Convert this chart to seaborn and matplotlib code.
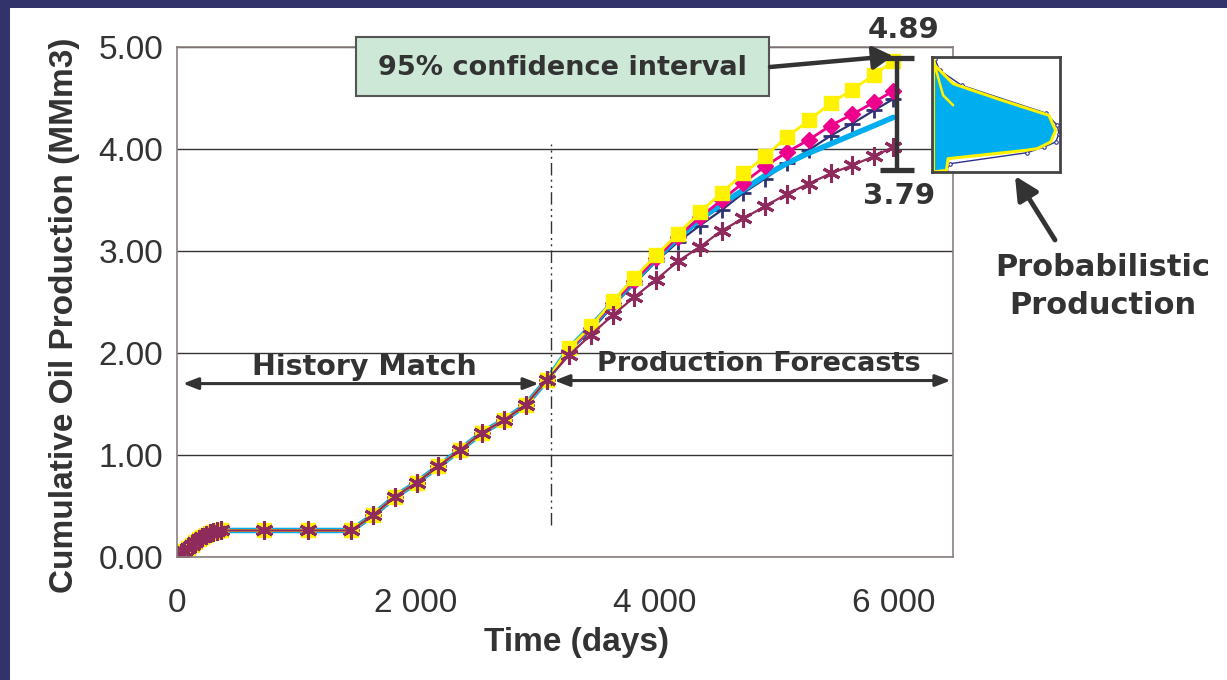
import matplotlib
matplotlib.use("Agg")
import matplotlib.pyplot as plt
import seaborn as sns
import numpy as np
from matplotlib.patches import Rectangle

# ---------------- data ----------------
t_hist = [0, 30, 61, 91, 122, 152, 183, 213, 243, 274, 304, 335, 365,
          730, 1095, 1460, 1642, 1825, 2007, 2190, 2372, 2555, 2737, 2920, 3102]
v_hist = [0.00, 0.03, 0.06, 0.09, 0.12, 0.15, 0.18, 0.20, 0.22, 0.235, 0.245, 0.255, 0.26,
          0.26, 0.26, 0.26, 0.41, 0.59, 0.73, 0.89, 1.05, 1.22, 1.34, 1.49, 1.74]
t_fc = [3285, 3467, 3650, 3832, 4015, 4197, 4380, 4562, 4745, 4927, 5110, 5292, 5475, 5657, 5840, 6000]
high_fc = [2.05, 2.26, 2.51, 2.74, 2.96, 3.17, 3.38, 3.57, 3.76, 3.93, 4.12, 4.28, 4.45, 4.58, 4.73, 4.86]
p_fc = [2.03, 2.25, 2.49, 2.71, 2.93, 3.14, 3.33, 3.50, 3.67, 3.83, 3.97, 4.09, 4.23, 4.34, 4.46, 4.57]
mid_fc = [2.02, 2.22, 2.46, 2.68, 2.90, 3.09, 3.25, 3.40, 3.57, 3.71, 3.86, 3.99, 4.13, 4.25, 4.38, 4.49]
base_fc = [2.04, 2.26, 2.49, 2.71, 2.93, 3.13, 3.31, 3.46, 3.60, 3.74, 3.86, 3.96, 4.05, 4.14, 4.23, 4.31]
low_fc = [1.98, 2.18, 2.37, 2.55, 2.72, 2.90, 3.04, 3.20, 3.32, 3.44, 3.56, 3.66, 3.76, 3.84, 3.93, 4.02]

ci_low, ci_high = 3.79, 4.89
ci_x = 6030
split_t = 3130

x_ticks = [0, 2000, 4000, 6000]
x_ticklabels = ["0", "2 000", "4 000", "6 000"]
y_ticks = [0, 1, 2, 3, 4, 5]
y_ticklabels = ["0.00", "1.00", "2.00", "3.00", "4.00", "5.00"]

# inset distribution (horizontal = density, vertical = production)
pdf_u = [0.008, 0.021, 0.165, 0.533, 0.913, 0.966, 0.927, 0.822, 0.730, 0.126, 0.113, 0.008]
pdf_w = [1.000, 0.928, 0.768, 0.629, 0.493, 0.362, 0.261, 0.203, 0.188, 0.116, 0.014, 0.000]
fit_u = [0.021, 0.060, 0.231, 0.887, 0.979, 0.992, 0.966, 0.874, 0.743, 0.139, 0.113]
fit_w = [0.986, 0.884, 0.754, 0.513, 0.406, 0.333, 0.261, 0.217, 0.168, 0.072, 0.009]
cdf_u = [0.021, 0.087, 0.165]
cdf_w = [0.928, 0.667, 0.580]

# ---------------- style ----------------
sns.set_style("white")
plt.rcParams["font.family"] = ["Liberation Sans", "DejaVu Sans"]
TXT = "#333333"
ANN_FONT = ["DejaVu Sans"]

W, H = 1227, 680
fig = plt.figure(figsize=(W / 100, H / 100), dpi=100)
fig.patch.set_facecolor("white")

# navy frame bands (top and left)
fig.add_artist(Rectangle((0, 1 - 8 / H), 1, 8 / H, transform=fig.transFigure,
                         facecolor="#32336a", edgecolor="none"))
fig.add_artist(Rectangle((0, 0), 10 / W, 1, transform=fig.transFigure,
                         facecolor="#32336a", edgecolor="none"))

ax = fig.add_axes([177 / W, 1 - 557 / H, 776 / W, 510 / H])

full_t = t_hist + t_fc
series = [
    ("mid", v_hist + mid_fc, "#2e3174", "+", 12, 1.6, 2),
    ("base", v_hist + base_fc, "#00aeef", None, 0, 4.0, 0),
    ("p", v_hist + p_fc, "#ec008c", "D", 8, 2.0, 1),
    ("high", v_hist + high_fc, "#fff200", "s", 10, 2.0, 1),
    ("low", v_hist + low_fc, "#8e2a5c", (6, 2, 0), 13, 1.6, 2.2),
]
for name, vals, col, mk, ms, lw, mew in series:
    kws = dict(x=full_t, y=vals, color=col, linewidth=lw, ax=ax, sort=False)
    if mk is not None:
        kws.update(marker=mk, markersize=ms, markerfacecolor=col,
                   markeredgecolor=col, markeredgewidth=mew)
    sns.lineplot(**kws)

ax.set_xlim(0, 6500)
ax.set_ylim(0, 5)
ax.set_xticks(x_ticks)
ax.set_xticklabels(x_ticklabels)
ax.set_yticks(y_ticks)
ax.set_yticklabels(y_ticklabels)
ax.tick_params(axis="both", labelsize=24, colors="#8a7f7f", labelcolor=TXT,
               length=6, width=1, direction="out")
ax.tick_params(axis="x", pad=16)
ax.tick_params(axis="y", pad=4)
ax.yaxis.grid(True, color="#333333", linewidth=1)
ax.xaxis.grid(False)
ax.set_axisbelow(True)
for s in ax.spines.values():
    s.set_color("#8a7f7f")
    s.set_linewidth(1.2)

ax.set_xlabel("Time (days)", fontsize=24, fontweight="bold", color=TXT)
ax.set_ylabel("Cumulative Oil Production (MMm3)", fontsize=24, fontweight="bold", color=TXT)
ax.xaxis.set_label_coords((577 - 177) / 776, -0.137)
ax.yaxis.set_label_coords(-0.125, 0.4745)

# split line
ax.plot([split_t, split_t], [0.31, 4.05], color="#333333", linewidth=1,
        linestyle=(0, (9, 3, 1.5, 3, 1.5, 3)))

# double arrows
arr_kw = dict(arrowstyle="<|-|>,head_length=0.9,head_width=0.35", color=TXT,
              lw=2.2, shrinkA=0, shrinkB=0)
ax.annotate("", xy=(50, 1.70), xytext=(3030, 1.70), arrowprops=arr_kw)
ax.annotate("", xy=(3160, 1.73), xytext=(6480, 1.73), arrowprops=arr_kw,
            annotation_clip=False)
ax.text(1570, 1.86, "History Match", fontsize=20.5, fontweight="bold",
        color=TXT, ha="center", va="center", family=ANN_FONT)
ax.text(4870, 1.89, "Production Forecasts", fontsize=19.5, fontweight="bold",
        color=TXT, ha="center", va="center", family=ANN_FONT)

# confidence bar
mid = (ci_low + ci_high) / 2
ax.errorbar([ci_x], [mid], yerr=[[mid - ci_low], [ci_high - mid]], fmt="none",
            ecolor="#333333", elinewidth=3.2, capsize=12, capthick=3.8, clip_on=False)
ax.text(ci_x + 60, ci_high + 0.28, f"{ci_high:.2f}", fontsize=21, fontweight="bold",
        color=TXT, ha="center", va="center", family=ANN_FONT, clip_on=False)
ax.text(ci_x + 20, ci_low - 0.25, f"{ci_low:.2f}", fontsize=21, fontweight="bold",
        color=TXT, ha="center", va="center", family=ANN_FONT, clip_on=False)

# confidence interval box
fig.add_artist(Rectangle((356 / W, 1 - 96 / H), 413 / W, 59 / H, transform=fig.transFigure,
                         facecolor="#cde8d6", edgecolor="#555555", linewidth=1.5))
fig.text(562 / W, 1 - 68 / H, "95% confidence interval", fontsize=19.5, fontweight="bold",
         color=TXT, ha="center", va="center", family=ANN_FONT)
fig.add_artist(matplotlib.patches.FancyArrowPatch(
    (770, H - 67), (893, H - 56), transform=None,
    arrowstyle="-|>,head_length=12,head_width=7", color=TXT, lw=3.2,
    shrinkA=0, shrinkB=0, mutation_scale=1))

# inset distribution
axi = fig.add_axes([932 / W, 1 - 172 / H, 128 / W, 115 / H])
axi.fill_betweenx(pdf_w, 0.008, pdf_u, color="#00aeef", linewidth=0)
axi.plot(fit_u, fit_w, color="#2e3192", lw=1.0, marker="o", markersize=2.5,
         markerfacecolor="white", markeredgewidth=0.8)
axi.plot(pdf_u, pdf_w, color="#fff200", lw=2.2)
axi.plot([0.008, 0.008], [0, 1], color="#fff200", lw=2.2)
axi.plot(cdf_u, cdf_w, color="#fff200", lw=1.8)
axi.set_xlim(0, 1)
axi.set_ylim(0, 1)
axi.set_xticks([0.35, 0.57, 0.80])
axi.set_yticks([])
axi.tick_params(axis="x", direction="in", length=2, labelbottom=False, colors="#555555")
for s in axi.spines.values():
    s.set_color("#444444")
    s.set_linewidth(2)
axi.set_facecolor("white")

# probabilistic production label + arrow
fig.add_artist(matplotlib.patches.FancyArrowPatch(
    (1055, H - 240), (1015, H - 176), transform=None,
    arrowstyle="-|>,head_length=14,head_width=7", color=TXT, lw=3.5,
    shrinkA=0, shrinkB=0, mutation_scale=1))
fig.text(1103 / W, 1 - 268 / H, "Probabilistic", fontsize=22, fontweight="bold",
         color=TXT, ha="center", va="center", family=ANN_FONT)
fig.text(1103 / W, 1 - 306 / H, "Production", fontsize=22, fontweight="bold",
         color=TXT, ha="center", va="center", family=ANN_FONT)

fig.savefig("out.png", dpi=100, facecolor="white")
